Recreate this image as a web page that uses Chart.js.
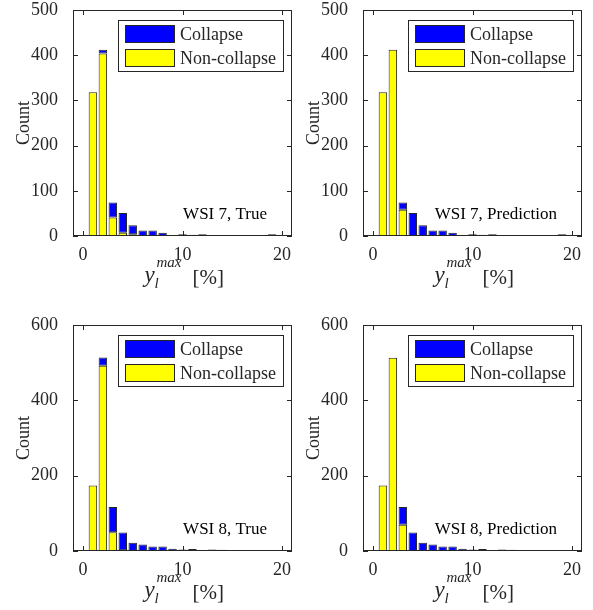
<!DOCTYPE html>
<html>
<head>
<meta charset="utf-8">
<script src="https://cdn.jsdelivr.net/npm/chart.js@4/dist/chart.umd.min.js"></script>
<style>
  body { margin: 0; background: #fff; width: 593px; height: 610px; overflow: hidden; position: relative; }
  canvas { position: absolute; }
</style>
</head>
<body>
<canvas id="c1" width="296" height="295" style="left:0;top:0"></canvas>
<canvas id="c2" width="296" height="295" style="left:290px;top:0"></canvas>
<canvas id="c3" width="296" height="295" style="left:0;top:315px"></canvas>
<canvas id="c4" width="296" height="295" style="left:290px;top:315px"></canvas>
<script>
"use strict"

// bin centres of the histograms (bin width 1 %)
const bins = [1, 2, 3, 4, 5, 6, 7, 8, 9, 10, 11, 12, 13, 14, 15, 16, 17, 18, 19]

// WSI 7
const wsi7TrueNon  = [318, 404, 41, 7, 4, 0, 0, 0, 0, 0, 0, 0, 0, 0, 0, 0, 0, 0, 0]
const wsi7TrueCol  = [0, 8, 33, 44, 20, 12, 12, 7, 1, 4, 3, 4, 1, 0, 0, 1, 1, 0, 4]
const wsi7PredNon  = [318, 412, 58, 0, 0, 0, 0, 0, 0, 0, 0, 0, 0, 0, 0, 0, 0, 0, 0]
const wsi7PredCol  = [0, 0, 16, 51, 24, 12, 12, 7, 1, 4, 3, 4, 1, 0, 0, 1, 1, 0, 4]
// WSI 8
const wsi8TrueNon  = [174, 492, 50, 2, 0, 0, 0, 0, 0, 0, 0, 0, 0, 0, 0, 0, 0, 0, 0]
const wsi8TrueCol  = [0, 22, 67, 47, 22, 17, 12, 12, 6, 4, 5, 2, 4, 3, 1, 1, 0, 0, 0]
const wsi8PredNon  = [174, 513, 70, 0, 0, 0, 0, 0, 0, 0, 0, 0, 0, 0, 0, 0, 0, 0, 0]
const wsi8PredCol  = [0, 0, 47, 49, 22, 17, 12, 12, 6, 4, 5, 2, 4, 3, 1, 1, 0, 0, 0]

const xTicks = [0, 10, 20]
const yTicks7 = [0, 100, 200, 300, 400, 500]
const yTicks8 = [0, 200, 400, 600]

const seriesNames = ['Collapse', 'Non-collapse']
const edge = '#262626'
const blue = '#0000ff'
const yellow = '#ffff00'
const serif = '"Liberation Serif", "Times New Roman", serif'

// box, inner ticks, legend, note and axis titles drawn like MATLAB does
const matlabBox = {
    id: 'matlabBox',
    afterDatasetsDraw(chart, args, o) {
        const ctx = chart.ctx
        const a = chart.chartArea
        const xs = chart.scales.x
        const ys = chart.scales.y
        ctx.save()
        ctx.strokeStyle = edge
        ctx.lineWidth = 1
        ctx.strokeRect(a.left + 0.5, a.top + 0.5, a.width - 1, a.height - 1)
        ctx.beginPath()
        for (const v of o.yTicks) {
            const py = Math.round(ys.getPixelForValue(v)) + 0.5
            ctx.moveTo(a.left, py); ctx.lineTo(a.left + 5, py)
            ctx.moveTo(a.right, py); ctx.lineTo(a.right - 5, py)
        }
        for (const v of xTicks) {
            const px = Math.round(xs.getPixelForValue(v)) + 0.5
            ctx.moveTo(px, a.bottom); ctx.lineTo(px, a.bottom - 5)
            ctx.moveTo(px, a.top); ctx.lineTo(px, a.top + 5)
        }
        ctx.stroke()

        // legend box
        const lw = 166, lh = 52
        const lx = a.right - 8 - lw, ly = a.top + 10
        ctx.fillStyle = '#fff'
        ctx.fillRect(lx, ly, lw, lh)
        ctx.strokeRect(lx + 0.5, ly + 0.5, lw - 1, lh - 1)
        const sw = [blue, yellow]
        ctx.font = '18px ' + serif
        ctx.textAlign = 'left'
        ctx.textBaseline = 'middle'
        for (let i = 0; i < 2; i++) {
            const sy = ly + 5 + i * 24
            ctx.fillStyle = sw[i]
            ctx.fillRect(lx + 7, sy, 50, 18)
            ctx.strokeRect(lx + 7.5, sy + 0.5, 49, 17)
            ctx.fillStyle = edge
            ctx.fillText(seriesNames[i], lx + 62, sy + 10)
        }

        // note
        ctx.font = '17px ' + serif
        ctx.textAlign = 'right'
        ctx.textBaseline = 'alphabetic'
        ctx.fillStyle = '#000'
        ctx.fillText(o.note, a.right - 25, a.bottom - 17)

        // y title
        ctx.save()
        ctx.translate(24, (a.top + a.bottom) / 2)
        ctx.rotate(-Math.PI / 2)
        ctx.textAlign = 'center'
        ctx.textBaseline = 'middle'
        ctx.font = '18px ' + serif
        ctx.fillStyle = edge
        ctx.fillText('Count', 0, 0)
        ctx.restore()

        // x title  y_l^max [%]
        const cx = (a.left + a.right) / 2
        const by = a.bottom + 46
        ctx.textAlign = 'left'
        ctx.fillStyle = edge
        ctx.font = 'italic 23px ' + serif
        ctx.fillText('y', cx - 38, by)
        ctx.font = 'italic 15px ' + serif
        ctx.fillText('l', cx - 28, by + 6)
        ctx.fillText('max', cx - 26, by - 15)
        ctx.font = '21px ' + serif
        ctx.fillText('[%]', cx + 10, by + 2)
        ctx.restore()
    }
}

function noPad(s) {
    s.paddingTop = 0
    s.paddingBottom = 0
    s.paddingLeft = 0
    s.paddingRight = 0
}

function makeChart(id, nonCol, col, yTicks, yMax, note) {
    const ctx = document.getElementById(id)
    return new Chart(ctx, {
        type: 'bar',
        data: {
            datasets: [
                {
                    label: seriesNames[1],
                    data: bins.map((b, i) => ({x: b, y: nonCol[i]})),
                    backgroundColor: yellow,
                    borderColor: edge,
                    borderWidth: 1,
                    borderSkipped: false,
                    stack: 's'
                },
                {
                    label: seriesNames[0],
                    data: bins.map((b, i) => ({x: b, y: col[i]})),
                    backgroundColor: blue,
                    borderColor: edge,
                    borderWidth: 1,
                    borderSkipped: false,
                    stack: 's'
                }
            ]
        },
        options: {
            responsive: false,
            animation: false,
            events: [],
            barPercentage: 0.85,
            categoryPercentage: 1,
            layout: { padding: { top: 10, right: 4, left: 0, bottom: 0 } },
            plugins: {
                legend: { display: false },
                tooltip: { enabled: false },
                matlabBox: { yTicks: yTicks, note: note }
            },
            scales: {
                x: {
                    type: 'linear',
                    min: -1,
                    max: 21,
                    offset: false,
                    grid: { display: false },
                    border: { display: false },
                    afterBuildTicks: s => { s.ticks = xTicks.map(v => ({value: v})) },
                    afterFit: s => { s.height = 59; noPad(s) },
                    ticks: { padding: 0, color: edge, font: { family: serif, size: 18 } }
                },
                y: {
                    min: 0,
                    max: yMax,
                    grid: { display: false },
                    border: { display: false },
                    afterBuildTicks: s => { s.ticks = yTicks.map(v => ({value: v})) },
                    afterFit: s => { s.width = 73; noPad(s) },
                    ticks: { padding: 7, color: edge, font: { family: serif, size: 18 } }
                }
            }
        },
        plugins: [matlabBox]
    })
}

makeChart('c1', wsi7TrueNon, wsi7TrueCol, yTicks7, 500, 'WSI 7, True')
makeChart('c2', wsi7PredNon, wsi7PredCol, yTicks7, 500, 'WSI 7, Prediction')
makeChart('c3', wsi8TrueNon, wsi8TrueCol, yTicks8, 600, 'WSI 8, True')
makeChart('c4', wsi8PredNon, wsi8PredCol, yTicks8, 600, 'WSI 8, Prediction')
</script>
</body>
</html>
